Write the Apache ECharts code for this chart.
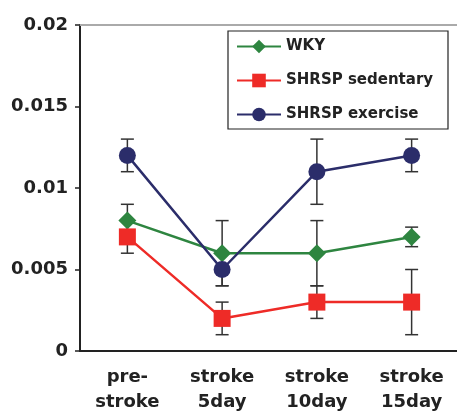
<!DOCTYPE html>
<html>
<head>
<meta charset="utf-8">
<script src="https://cdn.jsdelivr.net/npm/echarts@6/dist/echarts.min.js"></script>
<style>
html,body{margin:0;padding:0;background:#fff;}
#chart{width:457px;height:411px;}
</style>
</head>
<body>
<div id="chart"></div>
<script>
// 数据
var categories = ['pre-\nstroke', 'stroke\n5day', 'stroke\n10day', 'stroke\n15day'];
var yTicks = ['0', '0.005', '0.01', '0.015', '0.02'];
var seriesNames = ['WKY', 'SHRSP sedentary', 'SHRSP exercise'];
var wky = [0.008, 0.006, 0.006, 0.007];
var wkyErr = [0.001, 0.002, 0.002, 0.0006];
var sedentary = [0.007, 0.002, 0.003, 0.003];
var sedentaryErr = [0.001, 0.001, 0.001, 0.002];
var exercise = [0.012, 0.005, 0.011, 0.012];
var exerciseErr = [0.001, 0.001, 0.002, 0.001];

var colors = ['#2e8540', '#ee2b27', '#2b2d6a'];
var fontFam = 'DejaVu Sans';

function errData(vals, errs) {
    var out = [];
    for (var i = 0; i < vals.length; i++) {
        out.push([i, vals[i] - errs[i], vals[i] + errs[i]]);
    }
    return out;
}

function errSeries(vals, errs) {
    return {
        type: 'custom',
        z: 1,
        silent: true,
        data: errData(vals, errs),
        renderItem: function (params, api) {
            var lo = api.coord([api.value(0), api.value(1)]);
            var hi = api.coord([api.value(0), api.value(2)]);
            var half = 6.5;
            var st = { stroke: '#333', lineWidth: 1.5 };
            return {
                type: 'group',
                children: [
                    { type: 'line', shape: { x1: lo[0], y1: lo[1], x2: hi[0], y2: hi[1] }, style: st },
                    { type: 'line', shape: { x1: lo[0] - half, y1: lo[1], x2: lo[0] + half, y2: lo[1] }, style: st },
                    { type: 'line', shape: { x1: hi[0] - half, y1: hi[1], x2: hi[0] + half, y2: hi[1] }, style: st }
                ]
            };
        }
    };
}

var chart = echarts.init(document.getElementById('chart'));

var option = {
    animation: false,
    backgroundColor: '#fff',
    grid: { left: 80, top: 25, width: 379, height: 326, outerBoundsMode: 'none', containLabel: false },
    graphic: [{
        type: 'rect',
        shape: { x: 228, y: 31, width: 220, height: 98 },
        style: { fill: '#fff', stroke: '#222', lineWidth: 1.2 },
        z: 50
    }],
    legend: {
        data: seriesNames,
        orient: 'vertical',
        left: 236,
        top: 39,
        itemWidth: 44,
        itemHeight: 17,
        itemGap: 19,
        padding: 0,
        z: 60,
        textStyle: { fontFamily: fontFam, fontWeight: 'bold', fontSize: 15, color: '#222' }
    },
    xAxis: [{
        type: 'category',
        data: categories,
        boundaryGap: true,
        axisLine: { lineStyle: { color: '#222', width: 2 } },
        axisTick: { inside: true, length: 6, lineStyle: { color: '#222', width: 1.5 } },
        axisLabel: {
            margin: 14,
            fontFamily: fontFam,
            fontWeight: 'bold',
            fontSize: 18,
            lineHeight: 25,
            color: '#222'
        }
    }, {
        type: 'category',
        position: 'top',
        data: categories,
        axisLine: { lineStyle: { color: '#aaa', width: 2 } },
        axisTick: { show: false },
        axisLabel: { show: false }
    }],
    yAxis: {
        type: 'value',
        min: 0,
        max: 0.02,
        interval: 0.005,
        splitLine: { show: false },
        axisLine: { show: true, lineStyle: { color: '#222', width: 2 } },
        axisTick: { show: true, length: 5, lineStyle: { color: '#222', width: 1.5 } },
        axisLabel: {
            margin: 12,
            fontFamily: fontFam,
            fontWeight: 'bold',
            fontSize: 18,
            color: '#222',
            formatter: function (v) { return yTicks[Math.round(v / 0.005)]; }
        }
    },
    series: [
        errSeries(wky, wkyErr),
        errSeries(sedentary, sedentaryErr),
        errSeries(exercise, exerciseErr),
        {
            name: seriesNames[0], type: 'line', data: wky, z: 3,
            symbol: 'diamond', symbolSize: 18,
            lineStyle: { color: colors[0], width: 2.5 },
            itemStyle: { color: colors[0] }
        },
        {
            name: seriesNames[1], type: 'line', data: sedentary, z: 4,
            symbol: 'rect', symbolSize: 17,
            lineStyle: { color: colors[1], width: 2.5 },
            itemStyle: { color: colors[1] }
        },
        {
            name: seriesNames[2], type: 'line', data: exercise, z: 5,
            symbol: 'circle', symbolSize: 17,
            lineStyle: { color: colors[2], width: 2.5 },
            itemStyle: { color: colors[2] }
        }
    ]
};

chart.setOption(option);
</script>
</body>
</html>
